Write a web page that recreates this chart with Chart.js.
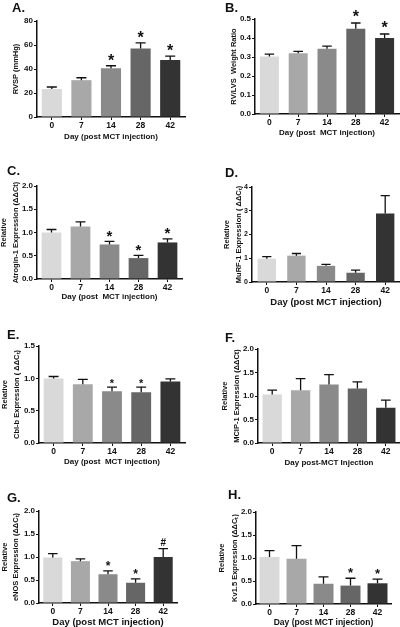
<!DOCTYPE html>
<html>
<head>
<meta charset="utf-8">
<script src="https://cdn.jsdelivr.net/npm/chart.js@4.4.0/dist/chart.umd.min.js"></script>
<style>
    html, body { margin: 0; padding: 0; background: #fff; overflow: hidden; }
    #fig { position: relative; width: 400px; height: 627px; }
    #fig canvas { position: absolute; }
    .letter { position: absolute; font: bold 13px "Liberation Sans", Arial, sans-serif; line-height: 1; color: #111; }
</style>
</head>
<body>
<div id="fig"></div>
<script>
// Дни после инъекции MCT
const days = ['0', '7', '14', '28', '42'];
const barColors = ['#d9d9d9', '#a8a8a8', '#8a8a8a', '#666666', '#333333'];

// A. RVSP
const rvspMean = [23.3, 30.7, 40.7, 57.0, 47.4];
const rvspErr = [1.7, 2.0, 2.0, 4.8, 3.3];
const rvspMark = ['', '', '*', '*', '*'];
const rvspTicks = [0, 20, 40, 60, 80];

// B. RV/LVS
const ratioMean = [0.302, 0.320, 0.344, 0.449, 0.400];
const ratioErr = [0.013, 0.010, 0.013, 0.030, 0.021];
const ratioMark = ['', '', '', '*', '*'];
const ratioTicks = [0, 0.1, 0.2, 0.3, 0.4, 0.5];

// C. Atrogin-1
const atroMean = [1.00, 1.13, 0.743, 0.45, 0.786];
const atroErr = [0.064, 0.10, 0.064, 0.057, 0.078];
const atroMark = ['', '', '*', '*', '*'];
const atroTicks = [0, 0.5, 1.0, 1.5, 2.0];

// D. MuRF-1
const murfMean = [0.98, 1.11, 0.68, 0.39, 2.885];
const murfErr = [0.09, 0.09, 0.06, 0.11, 0.755];
const murfMark = ['', '', '', '', ''];
const murfTicks = [0, 1, 2, 3, 4];

// E. Cbl-b
const cblMean = [0.998, 0.91, 0.80, 0.786, 0.952];
const cblErr = [0.03, 0.073, 0.064, 0.078, 0.041];
const cblMark = ['', '', '*', '*', ''];
const cblTicks = [0, 0.5, 1.0, 1.5];

// F. MCIP-1
const mcipMean = [1.033, 1.125, 1.245, 1.16, 0.75];
const mcipErr = [0.092, 0.245, 0.211, 0.14, 0.163];
const mcipMark = ['', '', '', '', ''];
const mcipTicks = [0, 0.5, 1.0, 1.5, 2.0];

// G. eNOS
const enosMean = [0.99, 0.91, 0.625, 0.44, 1.0];
const enosErr = [0.085, 0.05, 0.072, 0.085, 0.18];
const enosMark = ['', '', '*', '*', '#'];
const enosTicks = [0, 0.5, 1.0, 1.5, 2.0];

// H. Kv1.5
const kvMean = [1.02, 0.986, 0.44, 0.40, 0.45];
const kvErr = [0.14, 0.284, 0.15, 0.16, 0.09];
const kvMark = ['', '', '', '*', '*'];
const kvTicks = [0, 0.5, 1.0, 1.5, 2.0];

const FONT = '"Liberation Sans", Arial, sans-serif';
Chart.defaults.font.family = FONT;
Chart.defaults.font.weight = 'bold';
Chart.defaults.color = '#111';

// Планки ошибок (только вверх) и значки значимости
const errorBars = {
    id: 'errorBars',
    afterDatasetsDraw(chart, args, opts) {
        const ctx = chart.ctx;
        const y = chart.scales.y;
        const vals = chart.data.datasets[0].data;
        ctx.save();
        ctx.strokeStyle = '#111';
        ctx.fillStyle = '#111';
        ctx.lineWidth = 1.3;
        chart.getDatasetMeta(0).data.forEach((bar, i) => {
            const top = y.getPixelForValue(vals[i] + opts.err[i]);
            const half = bar.width * 0.25;
            ctx.beginPath();
            ctx.moveTo(bar.x, bar.y);
            ctx.lineTo(bar.x, top);
            ctx.moveTo(bar.x - half, top);
            ctx.lineTo(bar.x + half, top);
            ctx.stroke();

            const m = opts.marks[i];
            if (!m) return;
            ctx.textAlign = 'center';
            ctx.textBaseline = 'alphabetic';
            if (m === '#') {
                ctx.font = 'bold 10px ' + FONT;
                ctx.fillText(m, bar.x, top - 6 + 3.5);
            } else {
                ctx.font = 'bold ' + opts.size + 'px ' + FONT;
                ctx.fillText(m, bar.x, top - opts.gap + 0.57 * opts.size);
            }
        });
        ctx.restore();
    }
};

function makePanel(p) {
    const fig = document.getElementById('fig');
    const cx = p.col - 10, cw = 210;
    const lhY = p.yLh || 9;
    const lhX = p.xSize * 1.2;
    const ch = Math.round(p.xTitleY + lhX / 2 - p.top);
    const padLeft = p.yTitleX - lhY / 2 - cx;
    const yWidth = p.area.L - (cx + padLeft);
    const xHeight = ch - (p.area.B - p.top);

    const canvas = document.createElement('canvas');
    canvas.width = cw;
    canvas.height = ch;
    canvas.style.left = cx + 'px';
    canvas.style.top = p.top + 'px';
    fig.appendChild(canvas);

    const letter = document.createElement('div');
    letter.className = 'letter';
    letter.textContent = p.letter;
    letter.style.left = p.lx + 'px';
    letter.style.top = (p.ly - 2) + 'px';
    fig.appendChild(letter);

    new Chart(canvas.getContext('2d'), {
        type: 'bar',
        data: {
            labels: days,
            datasets: [{
                data: p.mean,
                backgroundColor: barColors,
                borderWidth: 0,
                barPercentage: p.barPct,
                categoryPercentage: 1
            }]
        },
        plugins: [errorBars],
        options: {
            responsive: false,
            animation: false,
            layout: {
                padding: {
                    left: padLeft,
                    right: cx + cw - p.area.R,
                    top: p.area.T - p.top,
                    bottom: 0
                }
            },
            plugins: {
                legend: { display: false },
                tooltip: { enabled: false },
                errorBars: { err: p.err, marks: p.marks, size: p.markSize || 15, gap: p.gap || 9 }
            },
            scales: {
                x: {
                    grid: { display: true, drawOnChartArea: false, offset: false, tickLength: 3, color: '#111', lineWidth: 1 },
                    border: { display: true, color: '#111', width: 1.5 },
                    ticks: { padding: 1, font: { size: p.xTick || 8.5, weight: 'bold' }, color: '#111' },
                    title: { display: true, text: p.xTitle, padding: 0, font: { size: p.xSize, weight: 'bold' }, color: '#111' },
                    afterFit: s => { s.height = xHeight; }
                },
                y: {
                    min: 0,
                    max: p.ticks[p.ticks.length - 1],
                    grid: { display: true, drawOnChartArea: false, tickLength: 3, color: '#111', lineWidth: 1 },
                    border: { display: true, color: '#111', width: 1.5 },
                    afterBuildTicks: s => { s.ticks = p.ticks.map(v => ({ value: v })); },
                    ticks: {
                        padding: 1,
                        font: { size: p.yTick || 8, weight: 'bold' },
                        color: '#111',
                        callback: v => v.toFixed(p.dec)
                    },
                    title: { display: true, text: p.yTitle, padding: 0, font: { size: 7.5, weight: 'bold', lineHeight: lhY / 7.5 }, color: '#111' },
                    afterFit: s => { s.width = yWidth; }
                }
            }
        }
    });
}

makePanel({ letter: 'A.', lx: 12, ly: 3, col: 0, top: 0, area: { L: 37, T: 21, R: 185, B: 117 },
    yTitleX: 16, yTitle: 'RVSP (mmHg)', xTitleY: 137, xSize: 8, xTitle: 'Day (post MCT injection)',
    mean: rvspMean, err: rvspErr, marks: rvspMark, ticks: rvspTicks, dec: 0, barPct: 0.68, markSize: 16, gap: 9 });

makePanel({ letter: 'B.', lx: 225, ly: 3, col: 200, top: 0, area: { L: 255, T: 19, R: 399, B: 114 },
    yTitleX: 234, yTitle: 'RV/LVS  Weight Ratio', xTitleY: 133, xSize: 8, xTitle: 'Day (post  MCT injection)',
    mean: ratioMean, err: ratioErr, marks: ratioMark, ticks: ratioTicks, dec: 1, barPct: 0.66, markSize: 16, gap: 10 });

makePanel({ letter: 'C.', lx: 7, ly: 166, col: 0, top: 150, area: { L: 37, T: 186, R: 182, B: 279 },
    yTitleX: 4, yLh: 11.5, yTitle: ['Relative', 'Atrogin-1 Expression (ΔΔCt)'], xTitleY: 297, xSize: 8, xTitle: 'Day (post  MCT injection)',
    mean: atroMean, err: atroErr, marks: atroMark, ticks: atroTicks, dec: 1, barPct: 0.68, markSize: 15, gap: 9 });

makePanel({ letter: 'D.', lx: 225, ly: 168, col: 200, top: 150, area: { L: 252, T: 187, R: 400, B: 282 },
    yTitleX: 227, yLh: 12, yTitle: ['Relative', 'MuRF-1 Expression ( ΔΔCₜ)'], xTitleY: 302.7, xSize: 9.5, xTitle: 'Day (post MCT injection)',
    mean: murfMean, err: murfErr, marks: murfMark, ticks: murfTicks, dec: 0, barPct: 0.62, yTick: 7, xTick: 8.5 });

makePanel({ letter: 'E.', lx: 7, ly: 330, col: 0, top: 305, area: { L: 39, T: 346, R: 185, B: 443 },
    yTitleX: 4.5, yLh: 12, yTitle: ['Relative', 'Cbl-b Expression ( ΔΔCₜ)'], xTitleY: 461.7, xSize: 8, xTitle: 'Day (post  MCT injection)',
    mean: cblMean, err: cblErr, marks: cblMark, ticks: cblTicks, dec: 1, barPct: 0.68, markSize: 11, gap: 6.5 });

makePanel({ letter: 'F.', lx: 225, ly: 333, col: 200, top: 305, area: { L: 258, T: 349, R: 400, B: 443 },
    yTitleX: 224.5, yLh: 12, yTitle: ['Relative', 'MCIP-1 Expression (ΔΔCt)'], xTitleY: 462.7, xSize: 8, xTitle: 'Day post-MCT Injection',
    mean: mcipMean, err: mcipErr, marks: mcipMark, ticks: mcipTicks, dec: 1, barPct: 0.68 });

makePanel({ letter: 'G.', lx: 7, ly: 493, col: 0, top: 465, area: { L: 39, T: 511, R: 177, B: 603 },
    yTitleX: 4.5, yLh: 11.5, yTitle: ['Relative', 'eNOS Expression (ΔΔCₜ)'], xTitleY: 622.5, xSize: 9.5, xTitle: 'Day (post MCT injection)',
    mean: enosMean, err: enosErr, marks: enosMark, ticks: enosTicks, dec: 1, barPct: 0.69, markSize: 12, gap: 8 });

makePanel({ letter: 'H.', lx: 228, ly: 490, col: 200, top: 465, area: { L: 256, T: 512, R: 391, B: 604 },
    yTitleX: 222, yLh: 13, yTitle: ['Relative', 'Kv1.5 Expression (ΔΔCₜ)'], xTitleY: 623, xSize: 8.5, xTitle: 'Day (post MCT injection)',
    mean: kvMean, err: kvErr, marks: kvMark, ticks: kvTicks, dec: 1, barPct: 0.74, markSize: 13, gap: 9 });
</script>
</body>
</html>
